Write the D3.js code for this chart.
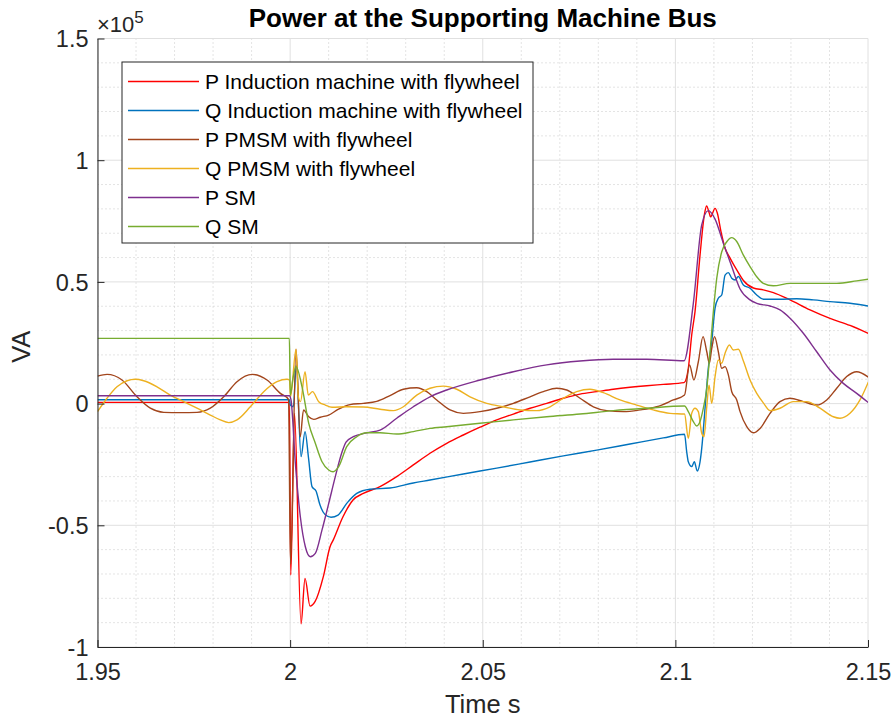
<!DOCTYPE html>
<html>
<head>
<meta charset="utf-8">
<script src="https://cdn.jsdelivr.net/npm/d3@7"></script>
<style>
  html, body { margin: 0; padding: 0; background: #fff; }
  svg { display: block; font-family: "Liberation Sans", Arial, Helvetica, sans-serif; }
</style>
</head>
<body>
<svg id="chart" width="893" height="719"></svg>
<script>
// ---------- data (time in s, power in VA) ----------
const seriesNames = [
  "P Induction machine with flywheel",
  "Q Induction machine with flywheel",
  "P PMSM with flywheel",
  "Q PMSM with flywheel",
  "P SM",
  "Q SM"
];
const seriesColors = ["#ff0000", "#0072bd", "#a2451c", "#edb120", "#7e2f8e", "#77ac30"];

const xTicks = [1.95, 2, 2.05, 2.1, 2.15];
const xTickLabels = ["1.95", "2", "2.05", "2.1", "2.15"];
const yTicks = [-100000, -50000, 0, 50000, 100000, 150000];
const yTickLabels = ["-1", "-0.5", "0", "0.5", "1", "1.5"];

const pIM = [
  [1.95, 500], [1.9998, 500], [2.00016, -70400], [2.00114, -4000], [2.00283, -90500],
  [2.00387, -71800], [2.00517, -83200], [2.00646, -81400], [2.00862, -71100], [2.01036, -58800],
  [2.01121, -56000], [2.01372, -46500], [2.01632, -39600], [2.0190, -36900], [2.02333, -34100],
  [2.02767, -30000], [2.03198, -25200], [2.03631, -20400], [2.04065, -16300], [2.04496, -12900],
  [2.04929, -9700], [2.05363, -6700], [2.05794, -4300], [2.06227, -1900], [2.06661, 100],
  [2.07092, 2200], [2.07525, 3900], [2.07958, 4900], [2.08389, 5900], [2.08823, 6700],
  [2.09256, 7350], [2.09687, 7900], [2.10225, 8600], [2.10336, 14500], [2.10424, 28200],
  [2.1051, 37800], [2.1064, 61000], [2.10752, 77500], [2.10809, 81200], [2.10881, 78200],
  [2.10912, 76700], [2.1103, 80200], [2.1109, 78200], [2.11186, 70500], [2.1129, 63800],
  [2.1142, 59800], [2.11593, 54900], [2.11765, 50600], [2.12025, 47500], [2.12283, 46700],
  [2.12543, 45600], [2.12976, 42600], [2.13495, 38500], [2.14014, 35000], [2.14533, 32100],
  [2.1501, 28800]
];

const qIM = [
  [1.95, 1600], [1.9998, 1600], [2.00005, -600], [2.00083, -1300], [2.00161, 15900],
  [2.00283, -21800], [2.00387, -11500], [2.00478, -22400], [2.00568, -34100], [2.00672, -35900],
  [2.00776, -41700], [2.00906, -45600], [2.01062, -46700], [2.01244, -45800], [2.01469, -41000],
  [2.01729, -36900], [2.02074, -35200], [2.02593, -34700], [2.03198, -32600], [2.03631, -31400],
  [2.04496, -28900], [2.05363, -26500], [2.06227, -24000], [2.07092, -21500], [2.07958, -19100],
  [2.08823, -16600], [2.09687, -14100], [2.10238, -12600], [2.10295, -19900], [2.10336, -23900],
  [2.10424, -25900], [2.10492, -23900], [2.10569, -27700], [2.1064, -23900], [2.10684, -18400],
  [2.1077, -1900], [2.10855, 14500], [2.10943, 25400], [2.1103, 39200], [2.11115, 43300],
  [2.11203, 44600], [2.1129, 52800], [2.11375, 53800], [2.11463, 51500], [2.11549, 50800],
  [2.11635, 52200], [2.11765, 48700], [2.11938, 47400], [2.12112, 44600], [2.12283, 42900],
  [2.12716, 42900], [2.1315, 43100], [2.13581, 42600], [2.14014, 41900], [2.14533, 41200],
  [2.1501, 40100]
];

const pPMSM = [
  [1.95, 11300], [1.95247, 12000], [1.95636, 9700], [1.96025, 2800], [1.96371, -1900],
  [1.96719, -3600], [1.9715, -3700], [1.97583, -3600], [1.97928, -1900], [1.98276, 2800],
  [1.98621, 9000], [1.99011, 12000], [1.994, 9700], [1.99746, 4200], [1.99958, 1700],
  [2.0001, -66000], [2.00153, 22400], [2.00262, -13600], [2.00348, -2600], [2.00483, -5400],
  [2.00613, -6500], [2.00784, -5600], [2.01002, -4700], [2.01244, -2400], [2.01556, -400],
  [2.019, 100], [2.02248, 900], [2.02593, 3300], [2.0294, 5900], [2.03287, 6500],
  [2.03547, 4900], [2.03806, 1500], [2.04152, -2600], [2.04497, -4000], [2.04929, -3300],
  [2.05363, -1900], [2.05794, 100], [2.06227, 2800], [2.06573, 4900], [2.0692, 6300],
  [2.0718, 5600], [2.07525, 2200], [2.07871, -1300], [2.08219, -2900], [2.08649, -3300],
  [2.09083, -2600], [2.09516, -1300], [2.09947, 1500], [2.10238, 3500], [2.10368, 15900],
  [2.1048, 9700], [2.10596, 17200], [2.10718, 27500], [2.10815, 21300], [2.10882, 16600],
  [2.10944, 22700], [2.11017, 27500], [2.11115, 21300], [2.11203, 14500], [2.1129, 15200],
  [2.11375, 11800], [2.11463, 4900], [2.11593, 1500], [2.11679, -3300], [2.11853, -9500],
  [2.12024, -12000], [2.12198, -10200], [2.12457, -4000], [2.12716, 800], [2.12976, 2200],
  [2.13321, 800], [2.13669, -600], [2.13928, 1500], [2.14188, 6300], [2.14447, 11100],
  [2.14707, 13100], [2.1501, 10900]
];

const qPMSM = [
  [1.95, -3300], [1.95247, 2200], [1.95506, 6900], [1.95766, 9400], [1.95981, 10000],
  [1.96199, 9400], [1.96545, 6900], [1.9689, 3500], [1.97238, 800], [1.97583, -1900],
  [1.97928, -4700], [1.98188, -6700], [1.98406, -7800], [1.98621, -6700], [1.98967, -1300],
  [1.99315, 4900], [1.9966, 9000], [1.9992, 10000], [1.99984, 9700], [2.0001, 2800],
  [2.00153, 22400], [2.00213, 2800], [2.0027, 800], [2.00387, 13100], [2.00472, 3500],
  [2.00581, 4900], [2.00742, 800], [2.00914, -600], [2.01088, -1500], [2.01469, -1300],
  [2.019, -1400], [2.02334, -2300], [2.02679, -2900], [2.0294, -1300], [2.03287, 3500],
  [2.03631, 6300], [2.03977, 7200], [2.04325, 5900], [2.0467, 2800], [2.05104, 100],
  [2.05535, -1300], [2.05968, -2600], [2.06401, -2900], [2.06747, -1300], [2.07092, 2200],
  [2.07439, 4900], [2.07784, 5900], [2.08129, 4500], [2.08563, 1500], [2.08996, -600],
  [2.09427, -2600], [2.09861, -4000], [2.10238, -4300], [2.10336, -14300], [2.10424, -4000],
  [2.1051, -1900], [2.10596, -3300], [2.10684, -12200], [2.10744, -13600], [2.10815, -1300],
  [2.10874, 7600], [2.10944, 100], [2.1103, 11100], [2.11115, 17900], [2.11203, 16600],
  [2.1129, 20700], [2.11401, 24100], [2.11505, 22000], [2.11635, 22300], [2.11765, 17500],
  [2.11938, 9700], [2.12112, 4200], [2.12283, 300], [2.12457, -2900], [2.12716, -1900],
  [2.13061, 800], [2.13409, 800], [2.13754, -1900], [2.14099, -5400], [2.14273, -6000],
  [2.14533, -4000], [2.14792, 1500], [2.1501, 8900]
];

const pSM = [
  [1.95, 3250], [1.9998, 3250], [2.00023, 1500], [2.00135, -24400], [2.00265, -46500],
  [2.00395, -58800], [2.00524, -62900], [2.00654, -61500], [2.00828, -51900], [2.01002, -41000],
  [2.01173, -30000], [2.01347, -19900], [2.01451, -15800], [2.01641, -13600], [2.01989, -12000],
  [2.02334, -10900], [2.02767, -6000], [2.03198, -1300], [2.03631, 2800], [2.04065, 5600],
  [2.04929, 9700], [2.05794, 13100], [2.06661, 15900], [2.07525, 17500], [2.08389, 18200],
  [2.09256, 18200], [2.10225, 17600], [2.10466, 41200], [2.10684, 73400], [2.10855, 79300],
  [2.1103, 75800], [2.11245, 65900], [2.11463, 56300], [2.11679, 47100], [2.11938, 42600],
  [2.12112, 41200], [2.12457, 40100], [2.12716, 38500], [2.12976, 35100], [2.13321, 28900],
  [2.13669, 21300], [2.14014, 13800], [2.14359, 8300], [2.14707, 4200], [2.1501, 400]
];

const qSM = [
  [1.95, 26800], [1.9998, 26800], [2.00005, 3500], [2.00075, 10500], [2.00153, 15200],
  [2.00309, 6900], [2.00483, -8100], [2.00654, -16300], [2.00828, -23900], [2.01002, -27300],
  [2.01114, -28000], [2.01261, -25900], [2.01469, -17700], [2.0173, -13600], [2.0199, -12000],
  [2.02334, -12000], [2.02767, -12500], [2.03198, -11500], [2.03631, -10200], [2.04065, -9500],
  [2.04929, -8100], [2.05794, -6700], [2.06661, -5400], [2.07525, -4300], [2.08389, -2900],
  [2.09256, -1900], [2.10238, -1000], [2.10336, -3300], [2.10466, -7400], [2.10554, -9200],
  [2.1064, -7400], [2.10726, -1900], [2.10815, 6300], [2.109, 21300], [2.10986, 37800],
  [2.11074, 51500], [2.11204, 62400], [2.11334, 66500], [2.11463, 68200], [2.11593, 66600],
  [2.11765, 61000], [2.11938, 56300], [2.12112, 52100], [2.12283, 49400], [2.12543, 48400],
  [2.12976, 49400], [2.13581, 49400], [2.14188, 49400], [2.14707, 50400], [2.1501, 51100]
];

const seriesData = [pIM, qIM, pPMSM, qPMSM, pSM, qSM];

// ---------- layout ----------
const svg = d3.select("#chart");
const L = 97.5, R = 868, T = 38.5, B = 647;
const axisColor = "#262626";

const x = d3.scaleLinear().domain([1.95, 2.15]).range([L, R]);
const y = d3.scaleLinear().domain([-100000, 150000]).range([B, T]);

// minor grid (dotted)
const xMinor = d3.range(1.95, 2.1501, 0.01).filter(v => !xTicks.some(t => Math.abs(t - v) < 1e-9));
const yMinor = d3.range(-100000, 150001, 10000).filter(v => !yTicks.includes(v));
const grid = svg.append("g");
grid.selectAll(".xmin").data(xMinor).enter().append("line")
  .attr("x1", d => x(d)).attr("x2", d => x(d)).attr("y1", T).attr("y2", B)
  .attr("stroke", "#c8c8c8").attr("stroke-width", 1).attr("stroke-dasharray", "1,3");
grid.selectAll(".ymin").data(yMinor).enter().append("line")
  .attr("x1", L).attr("x2", R).attr("y1", d => y(d)).attr("y2", d => y(d))
  .attr("stroke", "#c8c8c8").attr("stroke-width", 1).attr("stroke-dasharray", "1,3");
// major grid
grid.selectAll(".xmaj").data(xTicks).enter().append("line")
  .attr("x1", d => x(d)).attr("x2", d => x(d)).attr("y1", T).attr("y2", B)
  .attr("stroke", "#e0e0e0").attr("stroke-width", 1);
grid.selectAll(".ymaj").data(yTicks).enter().append("line")
  .attr("x1", L).attr("x2", R).attr("y1", d => y(d)).attr("y2", d => y(d))
  .attr("stroke", "#e0e0e0").attr("stroke-width", 1);

// series
svg.append("clipPath").attr("id", "clip").append("rect")
  .attr("x", L).attr("y", T).attr("width", R - L).attr("height", B - T);
const line = d3.line().x(d => x(d[0])).y(d => y(d[1])).curve(d3.curveMonotoneX);
svg.append("g").attr("clip-path", "url(#clip)")
  .selectAll("path").data(seriesData).enter().append("path")
  .attr("d", d => line(d))
  .attr("fill", "none")
  .attr("stroke", (d, i) => seriesColors[i])
  .attr("stroke-width", 1.4)
  .attr("stroke-linejoin", "round");

// axes
const xAxis = d3.axisBottom(x).tickValues(xTicks).tickFormat((d, i) => xTickLabels[i])
  .tickSizeInner(-7).tickSizeOuter(0).tickPadding(16);
const yAxis = d3.axisLeft(y).tickValues(yTicks).tickFormat((d, i) => yTickLabels[i])
  .tickSizeInner(-7).tickSizeOuter(0).tickPadding(9);

const gx = svg.append("g").attr("transform", `translate(0,${B})`).call(xAxis);
const gy = svg.append("g").attr("transform", `translate(${L},0)`).call(yAxis);
[gx, gy].forEach(g => {
  g.select(".domain").attr("stroke", axisColor).attr("stroke-width", 1);
  g.selectAll(".tick line").attr("stroke", axisColor);
  g.selectAll(".tick text").attr("fill", axisColor).attr("font-size", 23.5)
    .attr("font-family", "'Liberation Sans', Arial, sans-serif");
});
gy.selectAll(".tick text").attr("dy", "0.35em");

// exponent label
const ex = svg.append("text").attr("x", 97).attr("y", 32).attr("fill", axisColor)
  .attr("font-size", 22);
ex.append("tspan").text("\u00d710");
ex.append("tspan").attr("dy", -9).attr("font-size", 17).text("5");

// title & labels
svg.append("text").attr("x", (L + R) / 2).attr("y", 27).attr("text-anchor", "middle")
  .attr("font-weight", "bold").attr("font-size", 26).attr("fill", "#000")
  .text("Power at the Supporting Machine Bus");
svg.append("text").attr("x", (L + R) / 2).attr("y", 713).attr("text-anchor", "middle")
  .attr("font-size", 25.5).attr("fill", axisColor).text("Time s");
svg.append("text").attr("transform", `translate(30,${(T + B) / 2 + 4}) rotate(-90)`)
  .attr("text-anchor", "middle").attr("font-size", 25.5).attr("fill", axisColor).text("VA");

// legend
const lg = svg.append("g");
lg.append("rect").attr("x", 122).attr("y", 62).attr("width", 411).attr("height", 181)
  .attr("fill", "#fff").attr("stroke", axisColor).attr("stroke-width", 1);
const rowY = i => 81.5 + i * 29;
seriesNames.forEach((name, i) => {
  lg.append("line").attr("x1", 128).attr("x2", 199).attr("y1", rowY(i)).attr("y2", rowY(i))
    .attr("stroke", seriesColors[i]).attr("stroke-width", 1.4);
  lg.append("text").attr("x", 205).attr("y", rowY(i)).attr("dy", "0.35em")
    .attr("font-size", 21).attr("fill", "#000").text(name);
});
</script>
</body>
</html>
